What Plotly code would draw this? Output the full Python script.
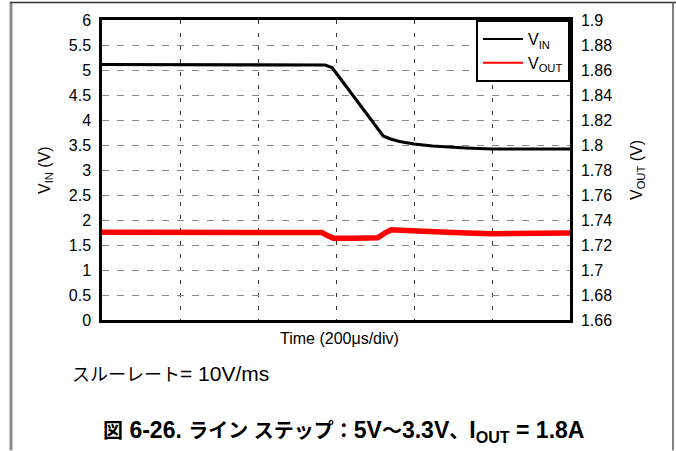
import plotly.graph_objects as go

# Input-voltage line step: time in microseconds, voltages in volts
vin_time_us = [0, 555, 572, 590, 721, 740, 763, 800, 847, 933, 1000, 1200]
vin_volts = [5.11, 5.11, 5.10, 5.05, 3.68, 3.62, 3.57, 3.52, 3.48, 3.44, 3.42, 3.42]

vout_time_us = [0, 300, 564, 578, 593, 650, 707, 725, 742, 780, 814, 900, 1000, 1100, 1200]
vout_volts = [1.7302, 1.7300, 1.7300, 1.7275, 1.7255, 1.7255, 1.7258, 1.7295, 1.7322,
              1.7316, 1.7310, 1.7300, 1.7290, 1.7294, 1.7296]

series_names = ["V<sub>IN</sub>", "V<sub>OUT</sub>"]
series_colors = ["#000000", "#ff0000"]

vin_range = [0, 6]
vout_range = [1.66, 1.9]
time_range = [0, 1200]

x_title = "Time (200μs/div)"
slew_note = "<span style='font-size:18px'>スルーレート</span>= 10V/ms"
caption = ("<b><span style='font-size:20px'>図</span> 6-26. "
           "<span style='font-size:20px'>ライン ステップ：</span>5V"
           "<span style='font-size:20px'>〜</span>3.3V"
           "<span style='font-size:20px'>、</span>I<sub>OUT</sub> = 1.8A</b>")

W, H = 676, 451
ML, MR, MT, MB = 102, 106, 18, 131
PW, PH = W - ML - MR, H - MT - MB


def px_x(px):
    return (px - ML) / PW


def px_y(py):
    return (H - MB - py) / PH


FONT = "Liberation Sans, Arial, Noto Sans CJK JP, sans-serif"

fig = go.Figure()
fig.add_trace(go.Scatter(x=vout_time_us, y=vout_volts, yaxis="y2", mode="lines",
                         line=dict(color=series_colors[1], width=5.5), showlegend=False))
fig.add_trace(go.Scatter(x=vin_time_us, y=vin_volts, mode="lines",
                         line=dict(color=series_colors[0], width=3.2), showlegend=False))
# legend entries with thin line samples
for name, color in zip(series_names, series_colors):
    fig.add_trace(go.Scatter(x=[None], y=[None], mode="lines", name=name,
                             line=dict(color=color, width=2)))

axis_common = dict(showline=True, linecolor="black", linewidth=2.5, zeroline=False,
                   tickfont=dict(size=16, color="black", family=FONT))

fig.update_layout(
    width=W, height=H,
    margin=dict(l=ML, r=MR, t=MT, b=MB, pad=0),
    paper_bgcolor="white", plot_bgcolor="white",
    font=dict(family=FONT, color="black", size=16),
    xaxis=dict(range=time_range, dtick=200, showticklabels=False, ticks="",
               showgrid=True, gridcolor="#333333", gridwidth=1, griddash="4px,9px",
               mirror=True, **axis_common),
    yaxis=dict(range=vin_range, dtick=0.5, ticks="outside", ticklen=5,
               tickcolor="rgba(0,0,0,0)",
               showgrid=True, gridcolor="#8a8a8a", gridwidth=1, griddash="7px,8px",
               mirror=True, **axis_common),
    yaxis2=dict(range=vout_range, dtick=0.02, overlaying="y", side="right",
                ticks="outside", ticklen=5, tickcolor="rgba(0,0,0,0)",
                showgrid=False, **axis_common),
    legend=dict(x=1, y=1, xanchor="right", yanchor="top", bgcolor="white",
                bordercolor="black", borderwidth=2, font=dict(size=16, family=FONT),
                tracegroupgap=0, itemwidth=40),
    showlegend=True,
)

annotations = [
    dict(text="V<sub>IN</sub> (V)", textangle=-90, x=px_x(45), y=px_y(169),
         font=dict(size=16)),
    dict(text="V<sub>OUT</sub> (V)", textangle=-90, x=px_x(637), y=px_y(169),
         font=dict(size=16)),
    dict(text=x_title, x=px_x(339), y=px_y(339), font=dict(size=16)),
    dict(text=slew_note, x=px_x(70), y=px_y(374), xanchor="left", font=dict(size=21)),
    dict(text=caption, x=px_x(343), y=px_y(432), font=dict(size=23)),
]
for a in annotations:
    a.setdefault("xanchor", "center")
    fig.add_annotation(xref="paper", yref="paper", yanchor="middle", showarrow=False, **a)

# page frame
frame = [
    dict(x0=px_x(11), x1=px_x(11), y0=px_y(0), y1=px_y(H), color="#8c8c8c", width=3),
    dict(x0=px_x(10), x1=px_x(W), y0=px_y(0.5), y1=px_y(0.5), color="#333333", width=1.5),
    dict(x0=px_x(673), x1=px_x(673), y0=px_y(0), y1=px_y(H), color="#555555", width=1.5),
]
for f in frame:
    fig.add_shape(type="line", xref="paper", yref="paper", x0=f["x0"], x1=f["x1"],
                  y0=f["y0"], y1=f["y1"], line=dict(color=f["color"], width=f["width"]))

fig.write_html("out.html")
